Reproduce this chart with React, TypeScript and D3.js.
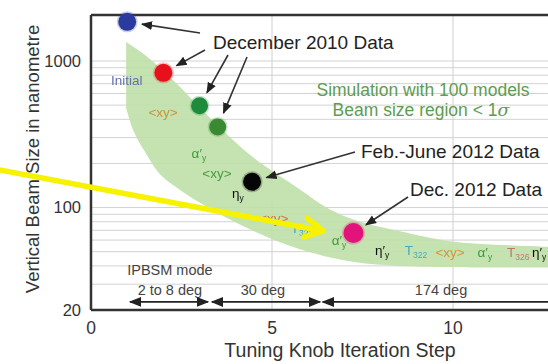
import React from 'react';
import * as d3 from 'd3';

const W = 548;
const H = 364;

// measured tuning steps (x) and vertical beam size in nm (y)
const steps = [1, 2, 3, 3.5, 4.45, 7.25];
const beamSize = [1850, 830, 495, 355, 150, 67];
const pointColors = ['#2b3a9e', '#e8111b', '#1e8a3c', '#3a8a34', '#050505', '#e2137a'];
const pointRadius = [9, 9, 8.5, 8.5, 9, 10];

// simulation band (100 models, < 1 sigma)
const bandUpperStep = [0.97, 1.49, 2.32, 3.29, 4.39, 5.03, 5.77, 6.6, 7.43, 8.54, 9.92, 12.62, 13.5];
const bandUpperSize = [1346, 1099, 720, 409, 229, 176, 133, 97, 80, 69, 59, 54, 53];
const bandLowerStep = [0.97, 1.16, 1.49, 1.91, 2.46, 3.01, 4.39, 5.77, 7.15, 8.54, 12.62, 13.5];
const bandLowerSize = [479, 340, 240, 168, 132, 108, 71, 52, 43, 40, 39, 39];

const xTicks = [0, 5, 10];
const yTicks = [20, 100, 1000];
const xGrid = [5, 10];
const yGrid = [30, 40, 50, 60, 70, 80, 90, 100, 200, 300, 400, 500, 600, 700, 800, 900, 1000];

// knob labels along the band
const knobBase = ['Initial', '<xy>', 'α′', '<xy>', 'η', '<xy>', 'T', 'α′', 'η′', 'T', '<xy>', 'α′', 'T', 'η′'];
const knobSub = ['', '', 'y', '', 'y', '', '322', 'y', 'y', '322', '', 'y', '326', 'y'];
const knobStep = [0.99, 1.99, 2.98, 3.48, 4.06, 5.05, 5.83, 6.85, 8.04, 8.98, 9.92, 10.88, 11.8, 12.38];
const knobSize = [742, 449, 235, 172, 126, 85, 72.5, 60, 51, 51, 49.5, 49.5, 49.5, 49.5];
const knobColors = ['#6670aa', '#cf923c', '#3c9a3c', '#4a9a40', '#111', '#d8703a', '#45a9b9',
  '#3c9a3c', '#111', '#45a9b9', '#d4953c', '#3c9a3c', '#c07575', '#111'];

// IPBSM mode ranges
const modeLabels = ['2 to 8 deg', '30 deg', '174 deg'];
const modeCenter = [2.18, 4.75, 9.67];
const modeStart = [1.08, 3.34, 6.4];
const modeEnd = [3.23, 6.33, 14];

const x = d3.scaleLinear().domain([0, 10]).range([91, 453]);
const y = d3.scaleLog().domain([20, 1000]).range([310, 61]);
const plotTop = 15;
const plotBottom = 310;

const font = '"Liberation Sans", Arial, sans-serif';

const lineGen = d3.line<[number, number]>()
  .x(d => x(d[0]))
  .y(d => y(d[1]))
  .curve(d3.curveCatmullRom);

const upperPts = bandUpperStep.map((s, i) => [s, bandUpperSize[i]] as [number, number]);
const lowerPts = bandLowerStep.map((s, i) => [s, bandLowerSize[i]] as [number, number]).reverse();
const bandPath = (lineGen(upperPts) || '') + 'L' + (lineGen(lowerPts) || '').slice(1) + 'Z';

function headTowards(tail: [number, number], idx: number, gap: number): [number, number] {
  const px = x(steps[idx]);
  const py = y(beamSize[idx]);
  const dx = tail[0] - px;
  const dy = tail[1] - py;
  const len = Math.sqrt(dx * dx + dy * dy);
  return [px + (dx / len) * gap, py + (dy / len) * gap];
}

const callouts = [
  { tail: [200, 33] as [number, number], idx: 0 },
  { tail: [205, 50] as [number, number], idx: 1 },
  { tail: [228, 55] as [number, number], idx: 2 },
  { tail: [247, 57] as [number, number], idx: 3 },
  { tail: [355, 152] as [number, number], idx: 4 },
  { tail: [408, 197] as [number, number], idx: 5 },
];

// yellow pointer (data coords)
const yellowFrom: [number, number] = [-2.8, 186];
const yellowTo: [number, number] = [6.41, 69.2];

const App = () => {
  const yx0 = x(yellowFrom[0]);
  const yy0 = y(yellowFrom[1]);
  const yx1 = x(yellowTo[0]);
  const yy1 = y(yellowTo[1]);
  const ang = Math.atan2(yy1 - yy0, yx1 - yx0);
  const arm = 20;
  const a1: [number, number] = [yx1 - arm * Math.cos(ang - 0.5), yy1 - arm * Math.sin(ang - 0.5)];
  const a2: [number, number] = [yx1 - arm * Math.cos(ang + 0.5), yy1 - arm * Math.sin(ang + 0.5)];

  const modeY = y(22.7);

  return (
    <svg width={W} height={H} style={{ position: 'absolute', left: 0, top: 0, background: '#fff' }}>
      <defs>
        <marker id="ah" viewBox="0 0 10 10" refX="9" refY="5" markerWidth="7" markerHeight="7" orient="auto-start-reverse">
          <path d="M0,1 L10,5 L0,9 Z" fill="#222" />
        </marker>
        <filter id="soft" x="-50%" y="-50%" width="200%" height="200%">
          <feGaussianBlur stdDeviation="0.5" />
        </filter>
      </defs>

      {/* grid */}
      {yGrid.map(v => (
        <line key={'yg' + v} x1={x(0)} x2={W} y1={y(v)} y2={y(v)} stroke="#d2d2d2" strokeWidth={1} />
      ))}
      {xGrid.map(v => (
        <line key={'xg' + v} x1={x(v)} x2={x(v)} y1={plotTop} y2={plotBottom} stroke="#cfcfcf" strokeWidth={1} />
      ))}

      {/* simulation band */}
      <path d={bandPath} fill="#bfe0a8" opacity={0.9} />

      {/* frame */}
      <line x1={x(0)} x2={W} y1={plotTop} y2={plotTop} stroke="#333" strokeWidth={2.5} />
      <line x1={x(0)} x2={x(0)} y1={plotTop} y2={plotBottom} stroke="#333" strokeWidth={2.5} />
      <line x1={x(0)} x2={W} y1={plotBottom} y2={plotBottom} stroke="#333" strokeWidth={2.5} />

      {/* tick labels */}
      {xTicks.map(t => (
        <text key={'xt' + t} x={x(t)} y={334} textAnchor="middle" fontSize={17.5} fill="#333" fontFamily={font}>{t}</text>
      ))}
      {yTicks.map(t => (
        <text key={'yt' + t} x={81} y={y(t)} dy="0.35em" textAnchor="end" fontSize={16.5} fill="#333" fontFamily={font}>{t}</text>
      ))}

      {/* axis titles */}
      <text x={340} y={357} textAnchor="middle" fontSize={19.5} fill="#333" fontFamily={font}>Tuning Knob Iteration Step</text>
      <text transform="translate(39,159) rotate(-90)" textAnchor="middle" fontSize={18.5} fill="#333" fontFamily={font}>
        Vertical Beam Size in nanometre
      </text>

      {/* knob labels */}
      {knobBase.map((b, i) => (
        <text key={'k' + i} x={x(knobStep[i])} y={y(knobSize[i])} dy="0.35em" textAnchor="middle"
          fontSize={13.5} fill={knobColors[i]} fontFamily={font} filter="url(#soft)">
          {b}
          {knobSub[i] ? <tspan fontSize={8.5} dy={3}>{knobSub[i]}</tspan> : null}
        </text>
      ))}

      {/* measured points */}
      {steps.map((s, i) => (
        <g key={'p' + i}>
          <circle cx={x(s)} cy={y(beamSize[i])} r={pointRadius[i] + 1.5} fill={pointColors[i]} opacity={0.25} />
          <circle cx={x(s)} cy={y(beamSize[i])} r={pointRadius[i]} fill={pointColors[i]} />
        </g>
      ))}

      {/* callout arrows */}
      {callouts.map((c, i) => {
        const h = headTowards(c.tail, c.idx, 15);
        return (
          <line key={'c' + i} x1={c.tail[0]} y1={c.tail[1]} x2={h[0]} y2={h[1]}
            stroke="#333" strokeWidth={1.6} markerEnd="url(#ah)" />
        );
      })}

      <text x={213} y={49} fontSize={19} fill="#222" fontFamily={font}>December 2010 Data</text>
      <text x={361} y={158} fontSize={19} fill="#222" fontFamily={font}>Feb.-June 2012 Data</text>
      <text x={410} y={196} fontSize={19} fill="#222" fontFamily={font}>Dec. 2012 Data</text>

      <text x={423} y={96} textAnchor="middle" fontSize={17.5} fill="#5e9c50" fontFamily={font}>Simulation with 100 models</text>
      <text x={421} y={116} textAnchor="middle" fontSize={17.5} fill="#5e9c50" fontFamily={font}>
        Beam size region &lt; 1<tspan fontStyle="italic" fontFamily="DejaVu Serif, serif">σ</tspan>
      </text>

      {/* IPBSM mode */}
      <text x={x(2.18)} y={275} textAnchor="middle" fontSize={14.5} fill="#444" fontFamily={font}>IPBSM mode</text>
      {modeLabels.map((m, i) => (
        <text key={'m' + i} x={x(modeCenter[i])} y={295} textAnchor="middle"
          fontSize={14.5} fill="#444" fontFamily={font}>{m}</text>
      ))}
      {modeLabels.map((m, i) => (
        <line key={'ma' + i} x1={x(modeStart[i])} x2={x(modeEnd[i])} y1={modeY} y2={modeY}
          stroke="#222" strokeWidth={1.8} markerStart="url(#ah)" markerEnd="url(#ah)" />
      ))}

      {/* yellow pointer */}
      <g stroke="#f7f200" strokeWidth={5.5} strokeLinecap="round" fill="none">
        <line x1={yx0} y1={yy0} x2={yx1} y2={yy1} />
        <polyline points={`${a1[0]},${a1[1]} ${yx1},${yy1} ${a2[0]},${a2[1]}`} strokeLinejoin="round" />
      </g>
    </svg>
  );
};

export default App;
